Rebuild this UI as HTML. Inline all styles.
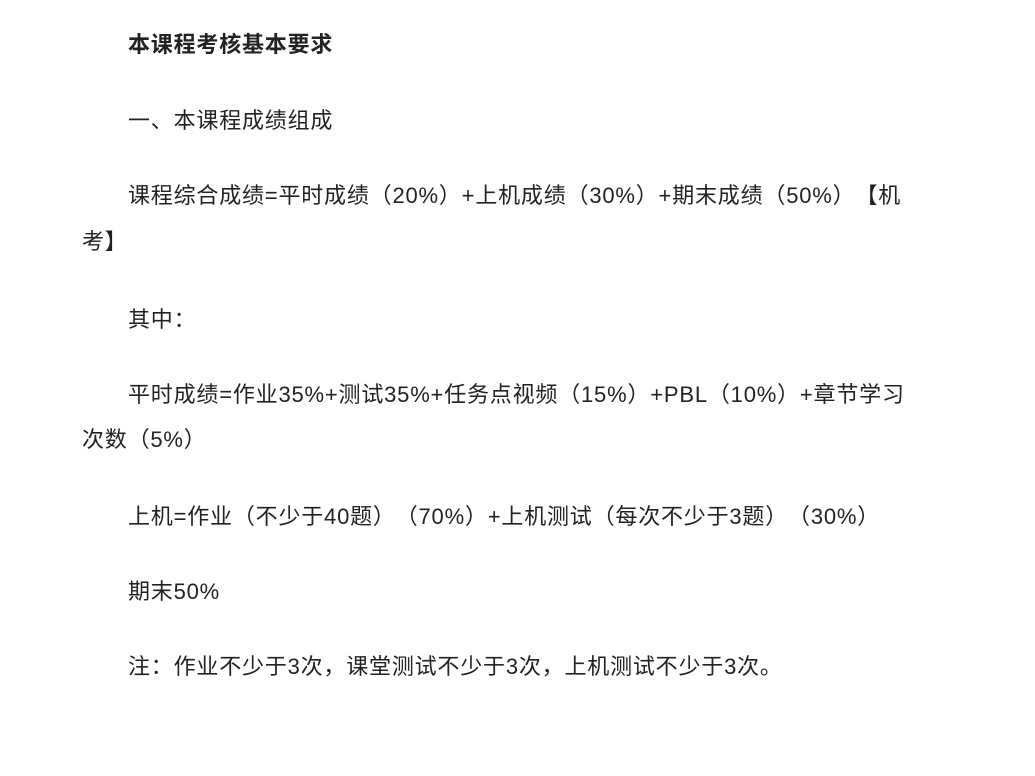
<!DOCTYPE html>
<html><head><meta charset="utf-8"><style>
body{margin:0;width:1035px;height:776px;background:#fff;position:relative;overflow:hidden;font-family:"Liberation Sans","Noto Sans CJK SC",sans-serif;color:#222;font-size:22px;text-spacing-trim:space-all}
.l{position:absolute;left:128px;line-height:30px;white-space:nowrap;text-spacing-trim:space-all;letter-spacing:0.8px}
.w{left:82px}
b{font-weight:bold}
</style></head><body>
<div class="l" style="top:30px"><b>本课程考核基本要求</b></div>
<div class="l" style="top:106px">一、本课程成绩组成</div>
<div class="l" style="top:181px">课程综合成绩=平时成绩（20%）+上机成绩（30%）+期末成绩（50%）【机</div>
<div class="l w" style="top:227px">考】</div>
<div class="l" style="top:305px">其中：</div>
<div class="l" style="top:380px">平时成绩=作业35%+测试35%+任务点视频（15%）+PBL（10%）+章节学习</div>
<div class="l w" style="top:425px">次数（5%）</div>
<div class="l" style="top:502px">上机=作业（不少于40题）（70%）+上机测试（每次不少于3题）（30%）</div>
<div class="l" style="top:577px">期末50%</div>
<div class="l" style="top:652px">注：作业不少于3次，课堂测试不少于3次，上机测试不少于3次。</div>
</body></html>
